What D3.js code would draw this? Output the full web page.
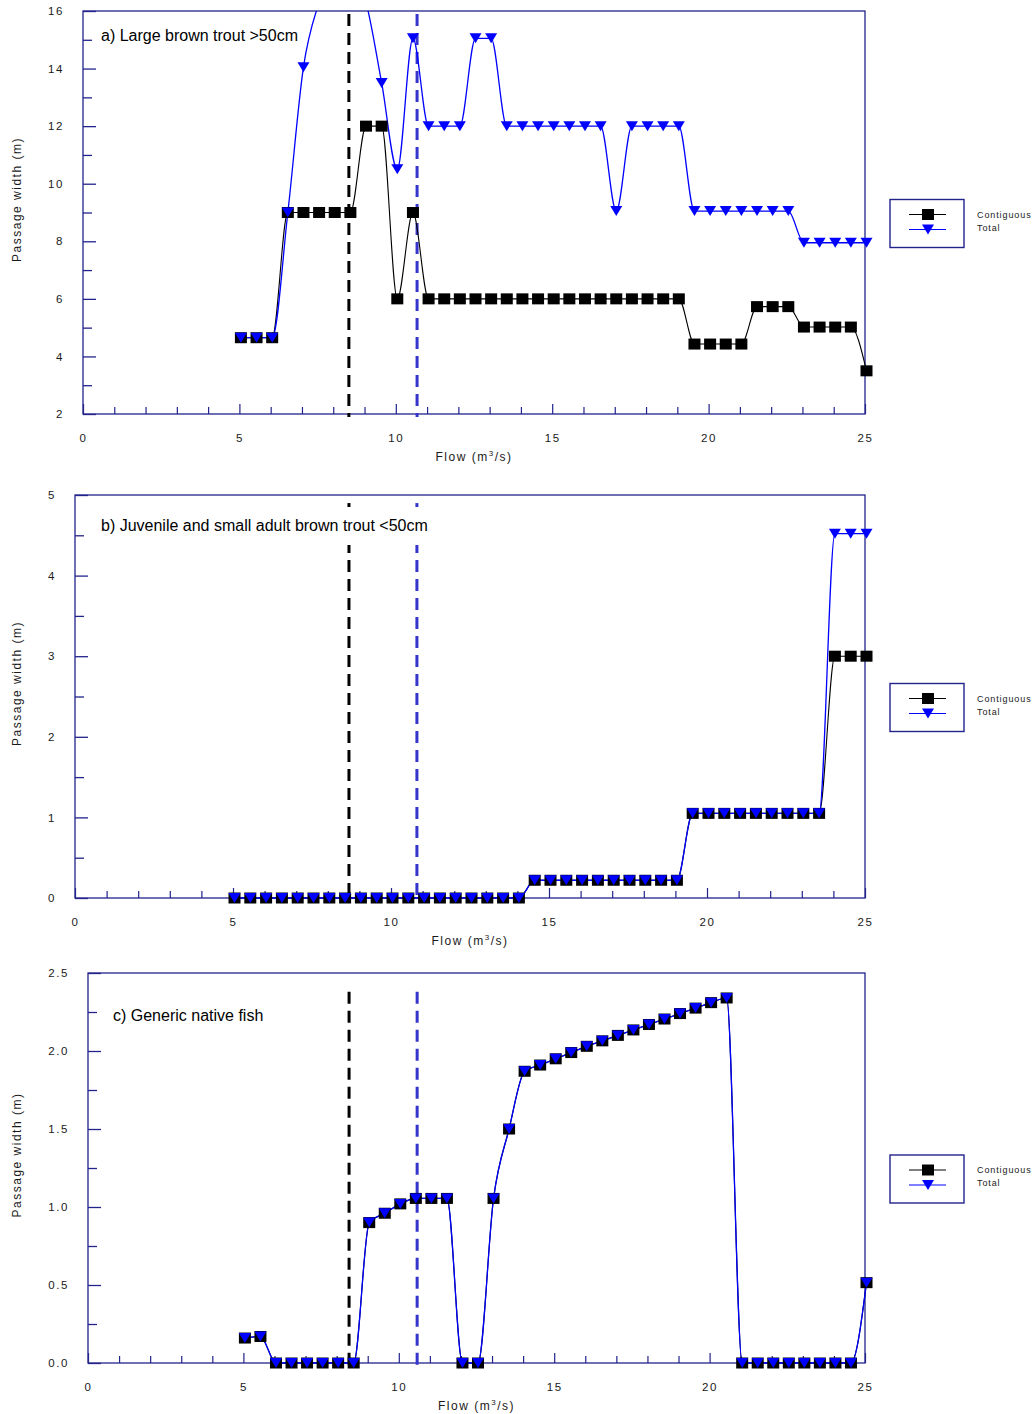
<!DOCTYPE html>
<html><head><meta charset="utf-8">
<script src="https://cdn.jsdelivr.net/npm/d3@7"></script>
<style>
body{margin:0;background:#fff}
svg{display:block}
text{font-family:"Liberation Sans",Arial,Helvetica,sans-serif}
</style>
</head><body>
<svg id="chart" width="1036" height="1414"></svg>
<script>
// ---------------- DATA ----------------
const flows = [5,5.5,6,6.5,7,7.5,8,8.5,9,9.5,10,10.5,11,11.5,12,12.5,13,13.5,14,14.5,15,15.5,16,16.5,17,17.5,18,18.5,19,19.5,20,20.5,21,21.5,22,22.5,23,23.5,24,24.5,25];

const titleA = "a) Large brown trout >50cm";
const titleB = "b) Juvenile and small adult brown trout <50cm";
const titleC = "c) Generic native fish";

const contiguousA = [4.65,4.65,4.65,9,9,9,9,9,12,12,6,9,6,6,6,6,6,6,6,6,6,6,6,6,6,6,6,6,6,4.43,4.43,4.43,4.43,5.73,5.73,5.73,5.02,5.02,5.02,5.02,3.5];
const totalA      = [4.65,4.65,4.65,9,14.05,16.3,17.5,17.5,16.3,13.5,10.5,15.05,12,12,12,15.05,15.05,12,12,12,12,12,12,12,9.05,12,12,12,12,9.05,9.05,9.05,9.05,9.05,9.05,9.05,7.95,7.95,7.95,7.95,7.95];

const contiguousB = [0,0,0,0,0,0,0,0,0,0,0,0,0,0,0,0,0,0,0,0.22,0.22,0.22,0.22,0.22,0.22,0.22,0.22,0.22,0.22,1.05,1.05,1.05,1.05,1.05,1.05,1.05,1.05,1.05,3.0,3.0,3.0];
const totalB      = [0,0,0,0,0,0,0,0,0,0,0,0,0,0,0,0,0,0,0,0.22,0.22,0.22,0.22,0.22,0.22,0.22,0.22,0.22,0.22,1.05,1.05,1.05,1.05,1.05,1.05,1.05,1.05,1.05,4.52,4.52,4.52];

const contiguousC = [0.16,0.17,0,0,0,0,0,0,0.9,0.96,1.02,1.055,1.055,1.055,0,0,1.055,1.5,1.87,1.91,1.95,1.99,2.03,2.065,2.1,2.135,2.17,2.205,2.24,2.275,2.31,2.34,0,0,0,0,0,0,0,0,0.515];
const totalC      = [0.16,0.17,0,0,0,0,0,0,0.9,0.96,1.02,1.055,1.055,1.055,0,0,1.055,1.5,1.87,1.91,1.95,1.99,2.03,2.065,2.1,2.135,2.17,2.205,2.24,2.275,2.31,2.34,0,0,0,0,0,0,0,0,0.515];

const yTicksA = [2,4,6,8,10,12,14,16];
const yMinorA = [3,5,7,9,11,13,15];
const yTicksB = [0,1,2,3,4,5];
const yMinorB = [0.5,1.5,2.5,3.5,4.5];
const yTicksC = [0,0.5,1,1.5,2,2.5];
const yMinorC = [0.25,0.75,1.25,1.75,2.25];
const xTicks = [0,5,10,15,20,25];
const xMinor = [1,2,3,4,6,7,8,9,11,12,13,14,16,17,18,19,21,22,23,24];

const refFlowsA = [8.5,10.68];
const refFlowsB = [8.67,10.82];
const refFlowsC = [8.4,10.59];

const legendLabels = ["Contiguous","Total"];
const yTitle = "Passage width (m)";

// ---------------- LAYOUT ----------------
const NAVY = "#23238c";
const BLUE = "#0000ff";
const REFBLUE = "#3535cc";

const panels = [
  {title:titleA, cont:contiguousA, tot:totalA, yDomain:[2,16], yTicks:yTicksA, yMinor:yMinorA, refs:refFlowsA, refSpan:[1.9,15.9], fmt:d3.format("d"),
   l:83, r:865, t:11, b:414, tx:101, ty:41},
  {title:titleB, cont:contiguousB, tot:totalB, yDomain:[0,5], yTicks:yTicksB, yMinor:yMinorB, refs:refFlowsB, refSpan:[-0.04,4.9], fmt:d3.format("d"),
   l:75, r:865, t:495, b:898, tx:101, ty:531},
  {title:titleC, cont:contiguousC, tot:totalC, yDomain:[0,2.5], yTicks:yTicksC, yMinor:yMinorC, refs:refFlowsC, refSpan:[-0.02,2.38], fmt:d3.format(".1f"),
   l:88, r:865, t:973, b:1363, tx:113, ty:1021}
];

const svg = d3.select("#chart");
const tri = "M-6,-5L6,-5L0,5Z";

panels.forEach((p, pi) => {
  const x = d3.scaleLinear().domain([0,25]).range([p.l, p.r]);
  const y = d3.scaleLinear().domain(p.yDomain).range([p.b, p.t]);
  const g = svg.append("g");

  // clip
  const cid = "clip" + pi;
  svg.append("clipPath").attr("id", cid).append("rect")
    .attr("x", p.l - 8).attr("y", p.t).attr("width", p.r - p.l + 16).attr("height", p.b - p.t + 8);

  // frame
  g.append("rect").attr("x", p.l).attr("y", p.t).attr("width", p.r - p.l).attr("height", p.b - p.t)
    .attr("fill", "none").attr("stroke", NAVY).attr("stroke-width", 1.3);

  // y axis major
  const yAx = g.append("g").attr("transform", `translate(${p.l},0)`)
    .call(d3.axisLeft(y).tickValues(p.yTicks).tickSize(-13).tickPadding(19).tickFormat(p.fmt));
  yAx.select(".domain").remove();
  yAx.selectAll("line").attr("stroke", NAVY).attr("stroke-width", 1.3);
  yAx.selectAll("text").attr("font-size", 11.5).attr("letter-spacing", "1.6px").attr("fill", "#1a1a1a")
     .attr("font-family", "'Liberation Sans',Arial,sans-serif");
  // y axis minor
  const yAm = g.append("g").attr("transform", `translate(${p.l},0)`)
    .call(d3.axisLeft(y).tickValues(p.yMinor).tickSize(-9).tickFormat(""));
  yAm.select(".domain").remove();
  yAm.selectAll("line").attr("stroke", NAVY).attr("stroke-width", 1.3);

  // x axis major
  const xAx = g.append("g").attr("transform", `translate(0,${p.b})`)
    .call(d3.axisBottom(x).tickValues(xTicks).tickSize(-10).tickPadding(20).tickFormat(d3.format("d")));
  xAx.select(".domain").remove();
  xAx.selectAll("line").attr("stroke", NAVY).attr("stroke-width", 1.2);
  xAx.selectAll("text").attr("font-size", 11.5).attr("letter-spacing", "1.6px").attr("fill", "#1a1a1a")
     .attr("font-family", "'Liberation Sans',Arial,sans-serif");
  const xAm = g.append("g").attr("transform", `translate(0,${p.b})`)
    .call(d3.axisBottom(x).tickValues(xMinor).tickSize(-7).tickFormat(""));
  xAm.select(".domain").remove();
  xAm.selectAll("line").attr("stroke", NAVY).attr("stroke-width", 1.2);

  // axis titles
  const xt = g.append("text").attr("x", (p.l + p.r) / 2).attr("y", p.b + 47)
    .attr("text-anchor", "middle").attr("font-size", 12).attr("letter-spacing", "1.5px").attr("fill", "#1a1a1a");
  xt.append("tspan").text("Flow (m");
  xt.append("tspan").text("3").attr("font-size", 8).attr("dy", -5);
  xt.append("tspan").text("/s)").attr("dy", 5);

  g.append("text").attr("transform", `translate(17,${(p.t + p.b) / 2 - 13}) rotate(-90)`)
    .attr("text-anchor", "middle").attr("dy", "0.35em").attr("font-size", 12).attr("letter-spacing", "1.5px")
    .attr("fill", "#1a1a1a").text(yTitle);

  // reference dashed lines
  const refColors = ["#000000", REFBLUE];
  p.refs.forEach((f, i) => {
    g.append("line").attr("x1", x(f)).attr("x2", x(f))
      .attr("y1", y(p.refSpan[1])).attr("y2", y(p.refSpan[0]))
      .attr("stroke", refColors[i]).attr("stroke-width", 3).attr("stroke-dasharray", "12,7");
  });

  // panel title with white background
  const tg = g.append("g");
  const bg = tg.append("rect").attr("fill", "#fff");
  const tt = tg.append("text").attr("x", p.tx).attr("y", p.ty).attr("font-size", 16).attr("fill", "#000").text(p.title);
  const tw = tt.node().getComputedTextLength();
  bg.attr("x", p.tx - 4).attr("y", p.ty - 24).attr("width", tw + 6).attr("height", 38);

  // series (small render offset as in the original)
  const line = d3.line().x((d, i) => x(flows[i])).y(d => y(d)).curve(d3.curveMonotoneX);
  const cg = g.append("g").attr("clip-path", `url(#${cid})`);
  const sg = cg.append("g").attr("transform", "translate(1.5,0)");
  const mg = g.append("g").attr("transform", "translate(1.5,0)");
  sg.append("path").datum(p.cont).attr("d", line).attr("fill", "none").attr("stroke", "#000").attr("stroke-width", 1.1);
  mg.selectAll("rect.sq").data(p.cont.map((v, i) => [flows[i], v]).filter(d => d[1] <= p.yDomain[1]))
    .join("rect").attr("class", "sq")
    .attr("x", d => x(d[0]) - 6).attr("y", d => y(d[1]) - 5.5).attr("width", 12).attr("height", 11)
    .attr("fill", "#000");
  const sg2 = cg.append("g").attr("transform", "translate(1.5,0)");
  sg2.append("path").datum(p.tot).attr("d", line).attr("fill", "none").attr("stroke", BLUE).attr("stroke-width", 1.3);
  const mg2 = g.append("g").attr("transform", "translate(1.5,0)");
  mg2.selectAll("path.tri").data(p.tot.map((v, i) => [flows[i], v]).filter(d => d[1] <= p.yDomain[1]))
    .join("path").attr("class", "tri")
    .attr("d", tri).attr("transform", d => `translate(${x(d[0])},${y(d[1])})`)
    .attr("fill", BLUE);

  // legend
  const ly = (p.t + p.b) / 2 + 11 - 24;
  const lg = g.append("g").attr("transform", `translate(890,${ly})`);
  lg.append("rect").attr("x", 0).attr("y", 0).attr("width", 74).attr("height", 48)
    .attr("fill", "#fff").attr("stroke", NAVY).attr("stroke-width", 1.4);
  lg.append("line").attr("x1", 19).attr("x2", 56).attr("y1", 15).attr("y2", 15).attr("stroke", "#000").attr("stroke-width", 1);
  lg.append("rect").attr("x", 32).attr("y", 9.5).attr("width", 12).attr("height", 11).attr("fill", "#000");
  lg.append("line").attr("x1", 19).attr("x2", 56).attr("y1", 30).attr("y2", 30).attr("stroke", BLUE).attr("stroke-width", 1.2);
  lg.append("path").attr("d", tri).attr("transform", "translate(38,30)").attr("fill", BLUE);
  legendLabels.forEach((lab, i) => {
    lg.append("text").attr("x", 87).attr("y", 15 + i * 13).attr("dy", "0.35em")
      .attr("font-size", 9).attr("letter-spacing", "0.9px").attr("fill", "#1a1a1a").text(lab);
  });
});
</script>
</body></html>
